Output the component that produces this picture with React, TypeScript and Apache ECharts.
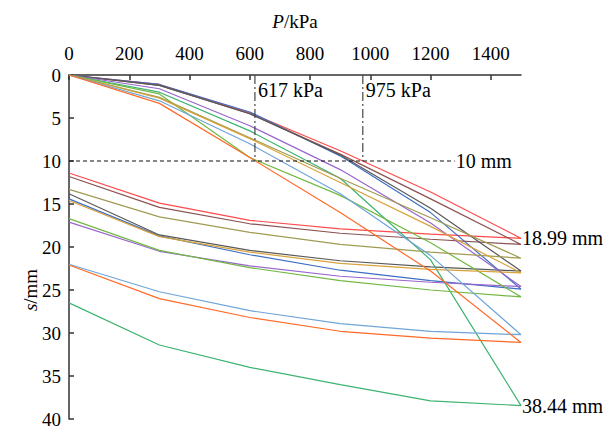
import React, { useEffect, useRef } from "react";
import * as echarts from "echarts";

// Load steps (kPa)
const loadP = [0, 300, 600, 900, 1200, 1500];
// Unloading steps, listed in ascending P
const unloadP = [0, 300, 600, 900, 1200, 1500];
const xTickLabels = [0, 200, 400, 600, 800, 1000, 1200, 1400];

const seriesNames = ["S1", "S2", "S3", "S4", "S5", "S6", "S7", "S8", "S9", "S10", "S11"];
const seriesColors = [
  "#FF4B4B", "#3D6FC4", "#8B5252", "#595959", "#9966CC", "#3CB371",
  "#72B843", "#A09B52", "#D9A23A", "#6FA5D8", "#FF6A28",
];
// settlement on loading (mm), at loadP
const loadS1 = [0, 1.1, 4.4, 8.8, 13.6, 18.99];
const loadS2 = [0, 1.1, 4.3, 9.4, 16.0, 24.9];
const loadS3 = [0, 1.2, 4.5, 9.2, 14.4, 19.7];
const loadS4 = [0, 1.2, 4.5, 9.3, 15.5, 22.8];
const loadS5 = [0, 1.6, 5.9, 11.0, 17.2, 24.6];
const loadS6 = [0, 2.0, 6.5, 12.0, 21.5, 38.44];
const loadS7 = [0, 2.2, 9.6, 14.0, 19.5, 25.8];
const loadS8 = [0, 2.6, 7.3, 12.0, 16.6, 21.3];
const loadS9 = [0, 2.7, 7.4, 12.5, 17.6, 23.0];
const loadS10 = [0, 3.0, 8.0, 13.8, 21.0, 30.2];
const loadS11 = [0, 3.3, 9.6, 16.0, 22.8, 31.1];
// settlement on unloading (mm), at unloadP (ascending)
const unloadS1 = [11.4, 14.9, 16.9, 17.9, 18.5, 18.99];
const unloadS2 = [14.4, 18.7, 20.9, 22.7, 23.9, 24.9];
const unloadS3 = [11.8, 15.4, 17.3, 18.4, 19.1, 19.7];
const unloadS4 = [13.8, 18.6, 20.4, 21.6, 22.3, 22.8];
const unloadS5 = [17.1, 20.5, 22.2, 23.4, 24.1, 24.6];
const unloadS6 = [26.5, 31.4, 34.0, 36.0, 37.9, 38.44];
const unloadS7 = [16.7, 20.4, 22.4, 23.9, 25.0, 25.8];
const unloadS8 = [13.3, 16.5, 18.3, 19.7, 20.6, 21.3];
const unloadS9 = [14.6, 18.8, 20.6, 21.9, 22.6, 23.0];
const unloadS10 = [22.0, 25.2, 27.4, 28.9, 29.8, 30.2];
const unloadS11 = [22.1, 26.0, 28.2, 29.8, 30.6, 31.1];

const loadAll = [loadS1, loadS2, loadS3, loadS4, loadS5, loadS6, loadS7, loadS8, loadS9, loadS10, loadS11];
const unloadAll = [unloadS1, unloadS2, unloadS3, unloadS4, unloadS5, unloadS6, unloadS7, unloadS8, unloadS9, unloadS10, unloadS11];
// series whose peak settlement is annotated
const annotatedPeaks = [0, 5];

// reference markers
const limitS = 10;
const limitLineEndP = 1280;
const limitLoads = [617, 975];

const FONT = "Liberation Serif";
const FS = 19;
const FS_NOTE = 20;

const labelBase = { color: "#000", fontFamily: FONT, fontSize: FS };
const noteBase = { color: "#000", fontFamily: FONT, fontSize: FS_NOTE };

export default function App() {
  const ref = useRef<HTMLDivElement>(null);
  useEffect(() => {
    document.body.style.margin = "0";
    if (!ref.current) return;
    const chart = echarts.init(ref.current, null, { renderer: "svg" });

    const hidden = { label: { show: false } };

    const curveSeries = seriesNames.map((name, k) => {
      const load = loadAll[k];
      const unload = unloadAll[k];
      const data: any[] = loadP.map((p, i) => {
        if (i === loadP.length - 1 && annotatedPeaks.includes(k)) {
          return {
            value: [p, load[i]],
            label: {
              ...noteBase,
              show: true,
              position: "right",
              distance: 1,
              formatter: `${load[i].toFixed(2)} mm`,
            },
          };
        }
        return { value: [p, load[i]], ...hidden };
      });
      for (let i = unloadP.length - 1; i >= 0; i--) data.push({ value: [unloadP[i], unload[i]], ...hidden });
      return {
        name,
        type: "line",
        data,
        symbol: "circle",
        symbolSize: 0,
        showSymbol: true,
        lineStyle: { color: seriesColors[k], width: 1.2 },
        itemStyle: { color: seriesColors[k] },
        label: { show: false },
        z: 2,
      };
    });

    const limitLine = {
      type: "line",
      data: [
        { value: [0, limitS], label: { show: false } },
        {
          value: [limitLineEndP, limitS],
          label: { ...noteBase, show: true, position: "right", distance: 1, formatter: `${limitS} mm` },
        },
      ],
      symbol: "circle",
      symbolSize: 0,
      showSymbol: true,
      lineStyle: { color: "#111", width: 1.2, type: [4, 3] },
      z: 3,
    };

    const loadLines = limitLoads.map((p) => ({
      type: "line",
      data: [
        {
          value: [p, 0],
          label: {
            ...noteBase,
            show: true,
            position: "right",
            distance: 3,
            offset: [0, 15],
            formatter: `${p} kPa`,
          },
        },
        { value: [p, limitS], label: { show: false } },
      ],
      symbol: "circle",
      symbolSize: 0,
      showSymbol: true,
      lineStyle: { color: "#444", width: 1.2, type: [9, 3, 2, 3] },
      z: 3,
    }));

    chart.setOption({
      animation: false,
      grid: { left: 69, top: 75, right: 90, bottom: 16, containLabel: false },
      xAxis: {
        type: "value",
        position: "top",
        min: 0,
        max: 1500,
        interval: 200,
        name: "{i|P}/kPa",
        nameLocation: "middle",
        nameGap: 44,
        nameTextStyle: {
          ...labelBase,
          rich: { i: { ...labelBase, fontStyle: "italic" } },
        },
        axisLine: { show: true, lineStyle: { color: "#333", width: 1.5 } },
        axisTick: { show: true, inside: true, length: 5, customValues: xTickLabels, lineStyle: { color: "#333", width: 1.5 } },
        axisLabel: { ...labelBase, margin: 12, customValues: xTickLabels, formatter: (v: number) => String(v) },
        splitLine: { show: false },
      },
      yAxis: {
        type: "value",
        inverse: true,
        min: 0,
        max: 40,
        interval: 5,
        axisLine: { show: true, lineStyle: { color: "#333", width: 1.5 } },
        axisTick: { show: true, inside: true, length: 5, lineStyle: { color: "#333", width: 1.5 } },
        axisLabel: { ...labelBase, margin: 8, formatter: (v: number) => String(v) },
        splitLine: { show: false },
      },
      graphic: [
        {
          type: "text",
          x: 30,
          y: 290,
          rotation: Math.PI / 2,
          style: {
            text: "{i|s}/mm",
            fill: "#000",
            fontFamily: FONT,
            fontSize: FS,
            align: "center",
            verticalAlign: "middle",
            rich: { i: { fontStyle: "italic", fontFamily: FONT, fontSize: FS, fill: "#000" } },
          },
        },
      ],
      series: [...curveSeries, limitLine, ...loadLines],
    });
    return () => chart.dispose();
  }, []);
  return <div ref={ref} style={{ width: 611, height: 435 }} />;
}
